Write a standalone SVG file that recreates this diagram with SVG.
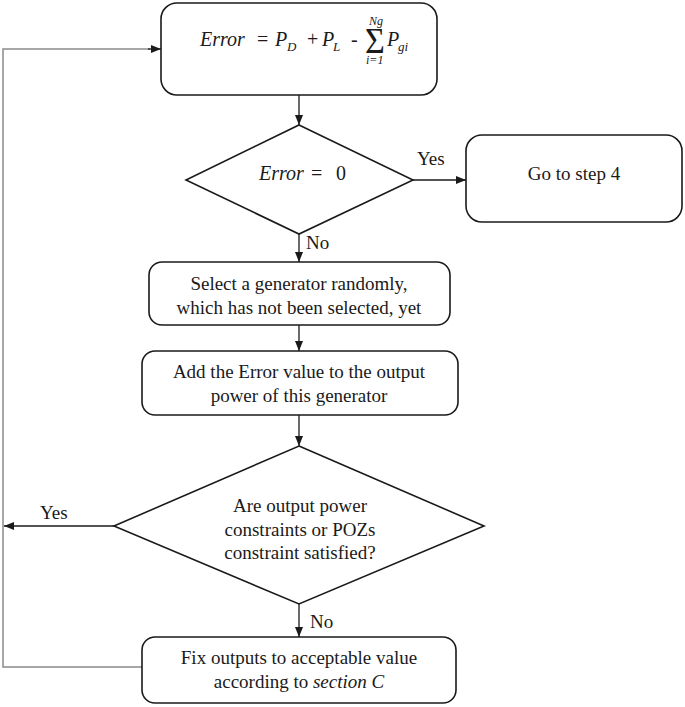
<svg xmlns="http://www.w3.org/2000/svg" width="685" height="707" viewBox="0 0 685 707" font-family="'Liberation Serif', 'DejaVu Serif', serif">
<defs>
<style>
.box{fill:#fff;stroke:#1a1a1a;stroke-width:1.6}
.ln{fill:none;stroke:#1a1a1a;stroke-width:1.3}
.gl{fill:none;stroke:#8a8a8a;stroke-width:1.5}
text{font-size:19px;fill:#1a1a1a}
.c{text-anchor:middle}
.it{font-style:italic}
.f{font-size:20px}
.s{font-size:13px}
.t{font-size:12px}
</style>
<marker id="ah" markerWidth="10" markerHeight="8" refX="10" refY="4" orient="auto" markerUnits="userSpaceOnUse">
<path d="M0,0 L10,4 L0,8 Z" fill="#1a1a1a"/>
</marker>
</defs>
<rect width="685" height="707" fill="#fff"/>
<g id="connectors">
<line class="ln" x1="299" y1="95" x2="299" y2="125" marker-end="url(#ah)"/>
<line class="ln" x1="413" y1="180" x2="466" y2="180" marker-end="url(#ah)"/>
<line class="ln" x1="299" y1="234" x2="299" y2="262" marker-end="url(#ah)"/>
<line class="ln" x1="299" y1="325" x2="299" y2="351" marker-end="url(#ah)"/>
<line class="ln" x1="299" y1="415" x2="299" y2="446" marker-end="url(#ah)"/>
<line class="ln" x1="299" y1="604" x2="299" y2="637" marker-end="url(#ah)"/>
<line class="ln" x1="114" y1="526" x2="4" y2="526" marker-end="url(#ah)"/>
<polyline class="gl" points="142,667 3,667 3,49 150,49"/>
<line class="ln" x1="148" y1="49" x2="161" y2="49" marker-end="url(#ah)"/>
<text x="417" y="165">Yes</text>
<text x="306" y="249">No</text>
<text x="310" y="628">No</text>
<text x="40" y="519">Yes</text>
</g>
<g id="n1">
<rect class="box" x="161" y="3" width="276" height="92" rx="16"/>
<text class="it f" x="200" y="46">Error</text>
<text class="f" x="257" y="46">=</text>
<text class="it f" x="275" y="46">P</text>
<text class="it s" x="287" y="51">D</text>
<text class="f" x="307" y="46">+</text>
<text class="it f" x="322" y="46">P</text>
<text class="it s" x="333" y="51">L</text>
<text class="f" x="351" y="46">-</text>
<text transform="translate(365,53) scale(1.55,1.6)" style="font-size:22px">Σ</text>
<text class="it t" x="369" y="25">Ng</text>
<text class="it t" x="366" y="64">i=1</text>
<text class="it f" x="387" y="46">P</text>
<text class="it s" x="398" y="51">gi</text>
</g>
<g id="n2">
<polygon class="box" points="299,125 413,180 299,234 186,180"/>
<text class="it f" x="259" y="180">Error</text>
<text class="f" x="311" y="180">=</text>
<text class="f" x="336" y="180">0</text>
</g>
<g id="n3">
<rect class="box" x="466" y="135" width="216" height="87" rx="16"/>
<text class="c" x="574" y="180">Go to step 4</text>
</g>
<g id="n4">
<rect class="box" x="149" y="262" width="301" height="63" rx="13"/>
<text class="c" x="299" y="290">Select a generator randomly,</text>
<text class="c" x="299" y="314">which has not been selected, yet</text>
</g>
<g id="n5">
<rect class="box" x="142" y="351" width="316" height="64" rx="13"/>
<text class="c" x="299" y="378">Add the Error value to the output</text>
<text class="c" x="299" y="402">power of this generator</text>
</g>
<g id="n6">
<polygon class="box" points="299,446 484,526 299,604 114,526"/>
<text class="c" x="300" y="512">Are output power</text>
<text class="c" x="300" y="536">constraints or POZs</text>
<text class="c" x="300" y="559">constraint satisfied?</text>
</g>
<g id="n7">
<rect class="box" x="142" y="637" width="314" height="66" rx="13"/>
<text class="c" x="299" y="664">Fix outputs to acceptable value</text>
<text class="c" x="299" y="688">according to <tspan class="it">section C</tspan></text>
</g>
</svg>
